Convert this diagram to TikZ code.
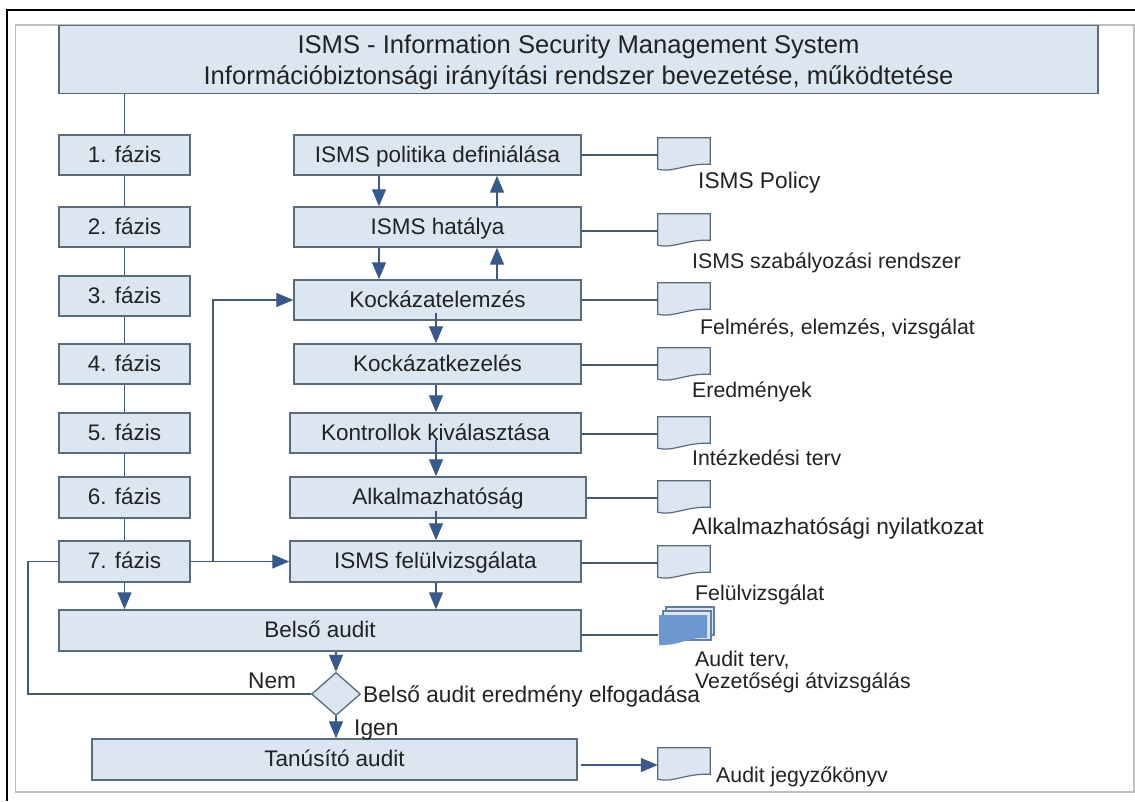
\documentclass[tikz,border=0pt]{standalone}
\usepackage{fontspec}
\setmainfont{Liberation Sans}
\usetikzlibrary{arrows.meta,shapes.geometric}
\definecolor{boxfill}{HTML}{DCE6F1}
\definecolor{boxline}{HTML}{5A6B7C}
\definecolor{conn}{HTML}{46586A}
\definecolor{arrowc}{HTML}{355A92}
\definecolor{stackc}{HTML}{6F97CF}
\definecolor{txt}{HTML}{222222}
\tikzset{
  x=1pt,y=-1pt,
  bx/.style={draw=boxline,line width=1.4pt,fill=boxfill,inner sep=0pt,text=txt,anchor=center},
  bxt/.style={bx,font=\fontsize{22.5}{26}\selectfont,text height=17pt,text depth=3pt},
  docn/.style={inner sep=0pt,minimum width=52pt,minimum height=34pt,anchor=center},
  lbl/.style={inner sep=0pt,anchor=west,text=txt,font=\fontsize{21.3}{25}\selectfont,text height=15pt,text depth=5pt},
  lblb/.style={lbl,font=\fontsize{22.7}{25}\selectfont},
  cn/.style={draw=conn,line width=1.2pt},
  ar/.style={cn,-{Triangle[length=17pt,width=14pt,fill=arrowc]},arrowc!60!conn},
  ddoc/.style={draw=boxline,line width=1.2pt,fill=boxfill},
}
\newcommand{\boxat}[6]{% name, x1, y1, x2, y2, text
  \node[bxt,minimum width={(#4)-(#2)},minimum height={(#5)-(#3)}] (#1) at ({((#2)+(#4))/2},{((#3)+(#5))/2}) {#6};}
\newcommand{\docat}[3]{% name, x centre, y centre
  \node[docn] (#1) at (#2,#3) {};
  \draw[ddoc] (#1.north west) -- (#1.north east) -- ([yshift=8pt]#1.south east)
    .. controls ([xshift=-24pt,yshift=9pt]#1.south east) and ([xshift=14pt,yshift=-1pt]#1.south west) .. ([yshift=3pt]#1.south west) -- cycle;}
\begin{document}
\begin{tikzpicture}
\useasboundingbox (0,0) rectangle (1135,801);
\fill[white] (0,0) rectangle (1135,801);
% frames
\draw[draw=black!25,line width=1.3pt] (15.5,25) -- (1134,25) -- (1134,792) -- (15.5,792) -- cycle;
\draw[black,line width=2pt] (6.5,801) -- (6.5,9.5) -- (1135,9.5);
% connectors under the boxes
\draw[cn] (124.5,93) -- (124.5,582);
\draw[cn] (213,299) -- (213,562);
% title
\node[bx,minimum width=1039pt,minimum height=68pt,align=center,font=\fontsize{25.6}{30.5}\selectfont] (title) at (578.5,59.5) {\rule{0pt}{24pt}ISMS - Information Security Management System\\Információbiztonsági irányítási rendszer bevezetése, működtetése};
% phases
\boxat{p1}{59}{135}{190}{175}{1. fázis}
\boxat{p2}{59}{207}{190}{247}{2. fázis}
\boxat{p3}{59}{276}{190}{316}{3. fázis}
\boxat{p4}{59}{344}{190}{384}{4. fázis}
\boxat{p5}{59}{413}{190}{453}{5. fázis}
\boxat{p6}{59}{477}{190}{518}{6. fázis}
\boxat{p7}{59}{541}{190}{582}{7. fázis}
% centre
\boxat{c1}{294}{135}{581}{175}{ISMS politika definiálása}
\boxat{c2}{294}{207}{581}{247}{ISMS hatálya}
\boxat{c3}{294}{280}{581}{320}{Kockázatelemzés}
\boxat{c4}{294}{344}{581}{384}{Kockázatkezelés}
\boxat{c5}{290}{413}{581}{453}{Kontrollok kiválasztása}
\boxat{c6}{290}{477}{586}{518}{Alkalmazhatóság}
\boxat{c7}{290}{541}{581}{582}{ISMS felülvizsgálata}
\boxat{ba}{59}{610}{581}{651}{Belső audit}
\boxat{ta}{92}{739}{577}{780}{Tanúsító audit}
\node[diamond,draw=boxline,line width=1.3pt,fill=boxfill,inner sep=0pt,minimum width=49pt,minimum height=43pt,aspect=1.14] (dm) at (336,694) {};
% documents
\docat{d1}{684}{155}
\docat{d2}{684}{231}
\docat{d3}{684}{300}
\docat{d4}{684}{365}
\docat{d5}{684}{434}
\docat{d6}{684}{498}
\docat{d7}{684}{563}
\node[docn] (d8) at (684,626) {};
\filldraw[draw=boxline!60!stackc,fill=boxfill,line width=1.5pt] (666,607) rectangle (714,635);
\filldraw[draw=boxline!60!stackc,fill=boxfill,line width=1.5pt] (663,611) rectangle (711,640);
\fill[stackc] (659,615) -- (707,615) -- (707,638) .. controls (690,636) and (680,646) .. (659,645) -- cycle;
\docat{d9}{684}{765}
% connectors to documents
\draw[cn] (c1.east) -- (d1);
\draw[cn] (d2.west -| c2.east) -- (d2);
\draw[cn] (d3.west -| c3.east) -- (d3);
\draw[cn] (d4.west -| c4.east) -- (d4);
\draw[cn] (d5.west -| c5.east) -- (d5);
\draw[cn] (d6.west -| c6.east) -- (d6);
\draw[cn] (d7.west -| c7.east) -- (d7);
\coordinate (d8w) at (658,635);
\draw[cn] (d8w -| ba.east) -- (d8w);
\draw[ar] (d9.west -| ta.east) ++(3,0) -- (d9.west);
% vertical arrows
\coordinate (xd) at (379,0);
\coordinate (xu) at (497,0);
\coordinate (xm) at (436,0);
\draw[ar] (c1.south -| xd) -- (c2.north -| xd);
\draw[ar] (c2.north -| xu) -- (c1.south -| xu);
\draw[ar] (c2.south -| xd) -- (c3.north -| xd);
\draw[ar] (c3.north -| xu) -- (c2.south -| xu);
\draw[ar] ([yshift=8pt]c3.south -| xm) -- (c4.north -| xm);
\draw[ar] (c4.south -| xm) -- (c5.north -| xm);
\draw[ar] ([yshift=14pt]c5.south -| xm) -- (c6.north -| xm);
\draw[ar] ([yshift=8pt]c6.south -| xm) -- (c7.north -| xm);
\draw[ar] (c7.south -| xm) -- (ba.north -| xm);
\draw[ar] (p7.south) -- (ba.north -| p7.south);
\draw[ar] (ba.south -| dm.north) -- (dm.north);
\draw[ar] (dm.south) -- (ta.north -| dm.south);
% horizontal arrows
\draw[ar] (p7.east) -- (c7.west);
\draw[ar] (213,300) -- (c3.west);
% return line
\draw[cn] (p7.west) -- (28,561.5) -- (28,694) -- (dm.west);
% labels
\node[lblb] (l1) at (698,183) {ISMS Policy};
\node[lbl] (l2) at (692,263) {ISMS szabályozási rendszer};
\node[lbl] (l3) at (700,329) {Felmérés, elemzés, vizsgálat};
\node[lbl] (l4) at (692,392) {Eredmények};
\node[lbl] (l5) at (692,460) {Intézkedési terv};
\node[lblb] (l6) at (692,529) {Alkalmazhatósági nyilatkozat};
\node[lbl] (l7) at (695,595) {Felülvizsgálat};
\node[lbl] (l8) at (695,661) {Audit terv,};
\node[lbl] (l8b) at (695,683) {Vezetőségi átvizsgálás};
\node[lblb] (l9) at (363,697) {Belső audit eredmény elfogadása};
\node[lblb] (l10) at (248,683) {Nem};
\node[lblb] (l11) at (354,730) {Igen};
\node[lbl] (l12) at (716,777) {Audit jegyzőkönyv};
\end{tikzpicture}
\end{document}
